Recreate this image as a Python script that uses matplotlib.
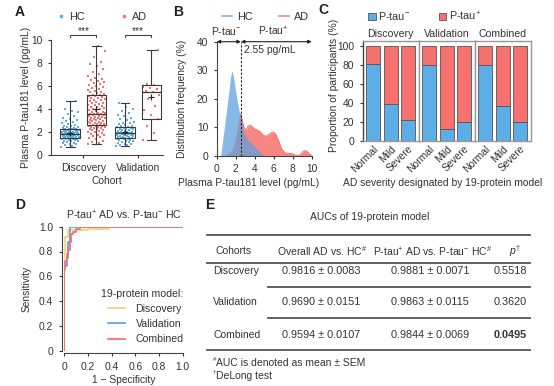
import numpy as np
import matplotlib
matplotlib.use("Agg")
import matplotlib.pyplot as plt
from matplotlib.lines import Line2D
from matplotlib.patches import Patch

FS = 7.4
plt.rcParams['font.family'] = ['Liberation Sans', 'DejaVu Sans']
plt.rcParams['font.size'] = FS
plt.rcParams['mathtext.fontset'] = 'custom'
plt.rcParams['mathtext.rm'] = 'Liberation Sans'
plt.rcParams['mathtext.it'] = 'Liberation Sans:italic'
plt.rcParams['mathtext.bf'] = 'Liberation Sans:bold'
TXT = '#333333'
plt.rcParams['text.color'] = TXT
plt.rcParams['axes.labelcolor'] = TXT
plt.rcParams['xtick.color'] = TXT
plt.rcParams['ytick.color'] = TXT
plt.rcParams['axes.edgecolor'] = '#444444'
plt.rcParams['axes.linewidth'] = 0.8
plt.rcParams['xtick.major.size'] = 2.5
plt.rcParams['ytick.major.size'] = 2.5
plt.rcParams['xtick.major.width'] = 0.8
plt.rcParams['ytick.major.width'] = 0.8
plt.rcParams['xtick.labelsize'] = FS
plt.rcParams['ytick.labelsize'] = FS

BLUE = '#5DADE6'
RED = '#F7726E'

# ---------------- Panel A data ----------------
cohorts = ['Discovery', 'Validation']
hc_discovery = [0.70, 0.78, 0.85, 0.92, 0.98, 1.02, 1.08, 1.12, 1.18, 1.22, 1.25, 1.28, 1.32, 1.35, 1.38, 1.40,
                1.42, 1.45, 1.47, 1.49, 1.51, 1.53, 1.55, 1.57, 1.60, 1.62, 1.64, 1.66, 1.68, 1.70, 1.72, 1.74,
                1.76, 1.78, 1.80, 1.82, 1.83, 1.84, 1.85, 1.86, 1.87, 1.89, 1.91, 1.93, 1.95, 1.97, 1.99, 2.01,
                2.03, 2.05, 2.07, 2.09, 2.11, 2.14, 2.17, 2.20, 2.22, 2.25, 2.27, 2.29, 2.32, 2.36, 2.40, 2.45,
                2.50, 2.55, 2.62, 2.70, 2.78, 2.85, 2.92, 3.00, 3.10, 3.25, 3.40, 3.55, 3.70, 3.85, 4.00, 4.70]
ad_discovery = [1.00, 1.05, 1.15, 1.25, 1.35, 1.45, 1.55, 1.62, 1.70, 1.78, 1.85, 1.92, 1.98, 2.04, 2.10, 2.15,
                2.20, 2.24, 2.28, 2.32, 2.36, 2.40, 2.44, 2.47, 2.50, 2.53, 2.56, 2.58,
                2.62, 2.66, 2.70, 2.74, 2.78, 2.82, 2.86, 2.90, 2.94, 2.98, 3.02, 3.06, 3.10, 3.14, 3.18, 3.22,
                3.26, 3.30, 3.34, 3.38, 3.42, 3.46, 3.50, 3.53, 3.56, 3.59, 3.60, 3.62,
                3.66, 3.72, 3.78, 3.84, 3.90, 3.96, 4.02, 4.08, 4.14, 4.20, 4.26, 4.32, 4.38, 4.44, 4.50, 4.56,
                4.62, 4.68, 4.74, 4.80, 4.86, 4.92, 4.98, 5.04, 5.10, 5.16, 5.20, 5.22,
                5.28, 5.36, 5.44, 5.52, 5.60, 5.68, 5.76, 5.84, 5.92, 6.00, 6.08, 6.16, 6.25, 6.35, 6.45, 6.55,
                6.62, 6.70, 6.85, 7.00, 7.20, 7.45, 7.70, 7.90, 8.10, 8.50, 9.00, 9.50]
hc_validation = [0.80, 0.85, 0.90, 0.95, 1.00, 1.05, 1.10, 1.15, 1.20, 1.24, 1.28, 1.32, 1.36, 1.40, 1.43, 1.45,
                 1.47, 1.50, 1.53, 1.56, 1.59, 1.62, 1.65, 1.68, 1.71, 1.74, 1.77, 1.80, 1.83, 1.86, 1.88, 1.90,
                 1.90, 1.92, 1.95, 1.98, 2.01, 2.04, 2.07, 2.10, 2.14, 2.18, 2.22, 2.26, 2.30, 2.34, 2.38, 2.42,
                 2.45, 2.50, 2.56, 2.62, 2.68, 2.75, 2.82, 2.90, 3.00, 3.10, 3.20, 3.35, 3.50, 3.65, 3.80, 4.00,
                 4.20, 4.50]
ad_validation = [1.30, 1.90, 2.50, 3.10, 3.50, 3.90, 4.30, 4.90, 5.20, 5.45, 5.60, 5.75, 5.85, 5.95, 6.05, 6.15, 9.10]

# box statistics (HC-Disc, AD-Disc, HC-Val, AD-Val)
box_low = [0.70, 1.00, 0.80, 1.30]
box_q1 = [1.50, 2.60, 1.45, 3.10]
box_med = [1.85, 3.60, 1.90, 5.45]
box_q3 = [2.30, 5.20, 2.45, 6.10]
box_high = [4.70, 9.50, 4.50, 9.10]
box_mean = [1.90, 4.00, 2.00, 5.00]
sig_labels = ['***', '***']

# ---------------- Panel B data ----------------
hc_dens_x = [0.42, 0.7, 1.0, 1.3, 1.45, 1.6, 1.75, 1.95, 2.2, 2.45, 2.65, 2.8, 3.1, 3.5, 3.9, 4.2, 4.5, 4.84, 5.0]
hc_dens_y = [0, 7.3, 15, 23, 27.5, 29.8, 28.0, 23.5, 18.5, 14.3, 10.5, 8.4, 6.3, 4.9, 3.6, 2.6, 1.5, 0.2, 0]
ad_dens_x = [1.0, 1.5, 1.9, 2.2, 2.4, 2.55, 2.7, 2.9, 3.1, 3.3, 3.5, 3.7, 4.0, 4.3, 4.6, 4.9, 5.2, 5.5, 5.8,
             6.0, 6.2, 6.45, 6.7, 6.9, 7.2, 7.5, 7.9, 8.2, 8.5, 8.8, 9.0, 9.2, 9.5, 9.7, 10.0]
ad_dens_y = [0, 0.8, 3.5, 8, 12.5, 14.8, 12, 9.5, 9.2, 10.3, 10.8, 10.2, 9.4, 9.0, 8.3, 7.2, 6.8, 7.5, 8.2,
             8.3, 7.6, 5.8, 3.5, 2.0, 1.0, 0.8, 0.8, 0.3, 0.0, 0.3, 1.2, 1.8, 1.6, 0.8, 0]
cutoff = 2.55

# ---------------- Panel C data ----------------
severity = ['Normal', 'Mild', 'Severe']
c_groups = ['Discovery', 'Validation', 'Combined']
ptau_neg = [[80.4, 38.2, 21.4], [79.6, 11.9, 19.6], [79.6, 36.1, 19.6]]

# ---------------- Panel D data ----------------
roc_disc_fpr = [0, 0, 0.01, 0.01, 0.03, 0.03, 0.20, 0.20, 0.38, 0.38, 1.0]
roc_disc_tpr = [0, 0.78, 0.78, 0.92, 0.92, 0.97, 0.97, 0.98, 0.98, 1.0, 1.0]
roc_val_fpr = [0, 0, 0.02, 0.02, 0.035, 0.035, 0.048, 0.048, 1.0]
roc_val_tpr = [0, 0.68, 0.68, 0.75, 0.75, 0.88, 0.88, 1.0, 1.0]
roc_comb_fpr = [0, 0, 0.01, 0.01, 0.02, 0.02, 0.03, 0.03, 0.045, 0.045, 0.055, 0.055, 0.07, 0.07, 0.10, 0.10,
                0.13, 0.13, 1.0]
roc_comb_tpr = [0, 0.65, 0.65, 0.72, 0.72, 0.78, 0.78, 0.81, 0.81, 0.88, 0.88, 0.94, 0.94, 0.96, 0.96, 0.98,
                0.98, 1.0, 1.0]

# ---------------- Panel E data ----------------
tab_cohorts = ['Discovery', 'Validation', 'Combined']
auc_overall = ['0.9816 ± 0.0083', '0.9690 ± 0.0151', '0.9594 ± 0.0107']
auc_ptau = ['0.9881 ± 0.0071', '0.9863 ± 0.0115', '0.9844 ± 0.0069']
p_values = ['0.5518', '0.3620', '0.0495']

W, H = 554, 386
fig = plt.figure(figsize=(W / 100, H / 100), dpi=100)


def ax_px(l, t, r, b):
    return fig.add_axes([l / W, 1 - b / H, (r - l) / W, (b - t) / H])


# ================= Panel A =================
axA = ax_px(50.7, 40, 163, 155)
pos_groups = [1, 2]
offs = 0.24
positions = [pos_groups[0] - offs, pos_groups[0] + offs, pos_groups[1] - offs, pos_groups[1] + offs]
series = [hc_discovery, ad_discovery, hc_validation, ad_validation]
cols = [BLUE, RED, BLUE, RED]
for p, vals, c in zip(positions, series, cols):
    n = len(vals)
    jit = (((np.arange(n) * 0.6180339) % 1.0) - 0.5) * 0.32
    axA.scatter(p + jit, vals, s=2.6, color=c, marker='s', linewidths=0, zorder=2)
stats = []
for i in range(4):
    stats.append(dict(whislo=box_low[i], q1=box_q1[i], med=box_med[i], q3=box_q3[i],
                      whishi=box_high[i], mean=box_mean[i], fliers=[]))
axA.bxp(stats, positions=positions, widths=0.36, showmeans=True, patch_artist=False,
        boxprops=dict(color='#3a3a3a', lw=0.8), medianprops=dict(color='#3a3a3a', lw=0.9),
        whiskerprops=dict(color='#3a3a3a', lw=0.8), capprops=dict(color='#3a3a3a', lw=0.8),
        meanprops=dict(marker='+', markeredgecolor='#222222', markersize=4, markeredgewidth=0.8),
        capwidths=0.16, zorder=3)
axA.set_xlim(0.407, 2.45)
axA.set_ylim(0, 10)
axA.set_yticks([0, 2, 4, 6, 8, 10])
axA.set_xticks(pos_groups)
axA.set_xticklabels(cohorts)
axA.set_xlabel('Cohort', labelpad=2)
axA.set_ylabel('Plasma P-tau181 level (pg/mL)')
axA.yaxis.set_label_coords(-0.178, 0.5)
axA.spines['top'].set_visible(False)
axA.spines['right'].set_visible(False)
for g, lab in zip(pos_groups, sig_labels):
    y0 = 10.25
    axA.plot([g - offs, g - offs, g + offs, g + offs], [y0, y0 + 0.2, y0 + 0.2, y0], color='#444444', lw=0.8,
             clip_on=False)
    axA.text(g, y0 + 0.12, lab, ha='center', va='bottom', fontsize=FS, clip_on=False)
legA = [Line2D([], [], marker='s', ls='none', color=BLUE, markersize=2.0, label='HC'),
        Line2D([], [], marker='s', ls='none', color=RED, markersize=2.0, label='AD')]
fig.legend(handles=legA, loc='center left', bbox_to_anchor=(58 / W, 1 - 17 / H), ncol=2, frameon=False,
           handlelength=0.5, handletextpad=0.5, columnspacing=3.4, fontsize=FS + 0.4, borderaxespad=0,
           borderpad=0)

# ================= Panel B =================
axB = ax_px(216.7, 41.7, 311.7, 155.7)
axB.fill_between(ad_dens_x, ad_dens_y, color=RED, alpha=0.85, lw=0, zorder=1)
axB.plot(ad_dens_x, ad_dens_y, color='#F06A66', lw=0.6, zorder=1)
axB.fill_between(hc_dens_x, hc_dens_y, color='#5A9FDD', alpha=0.72, lw=0, zorder=2)
axB.axvline(cutoff, ymin=0, ymax=1, color='#222222', lw=0.8, ls=(0, (2, 1.5)), zorder=3)
axB.set_xlim(0, 10)
axB.set_ylim(0, 40)
axB.set_xticks([0, 2, 4, 6, 8, 10])
axB.set_yticks([0, 10, 20, 30, 40])
axB.spines['top'].set_visible(False)
axB.spines['right'].set_visible(False)
axB.set_xlabel('Plasma P-tau181 level (pg/mL)')
axB.xaxis.set_label_coords(0.34, -0.2)
axB.set_ylabel('Distribution frequency (%)')
axB.yaxis.set_label_coords(-0.31, 0.5)
for a, b in [(0, cutoff), (cutoff, 10)]:
    axB.annotate('', xy=(b, 40), xytext=(a, 40), xycoords='data',
                 arrowprops=dict(arrowstyle='<|-|>', color='#222222', lw=0.8, mutation_scale=5,
                                 shrinkA=0, shrinkB=0), annotation_clip=False)
axB.text(2.9, 37.0, '2.55 pg/mL', ha='left', va='center', fontsize=FS)
axB.text(1.0, 43.8, 'P-tau$^{-}$', ha='center', va='center', fontsize=FS)
axB.text(5.9, 43.8, 'P-tau$^{+}$', ha='center', va='center', fontsize=FS)
legB = [Line2D([], [], color='#7FB8EC', lw=1.2, label='HC'), Line2D([], [], color='#F58A86', lw=1.2, label='AD')]
fig.legend(handles=legB, loc='center left', bbox_to_anchor=(222 / W, 1 - 17 / H), ncol=2, frameon=False,
           handlelength=0.95, handletextpad=0.45, columnspacing=2.4, fontsize=FS + 0.4, borderaxespad=0,
           borderpad=0)

# ================= Panel C =================
c_left = 362.7
c_w = 56
xs = np.arange(len(severity))
axesC = []
for gi, gname in enumerate(c_groups):
    ax = ax_px(c_left + gi * c_w, 40.7, c_left + (gi + 1) * c_w, 140.7)
    neg = np.array(ptau_neg[gi])
    pos = 100 - neg
    ax.bar(xs, neg, width=0.78, color=BLUE, edgecolor='#555555', lw=0.6, zorder=2)
    ax.bar(xs, pos, bottom=neg, width=0.78, color=RED, edgecolor='#555555', lw=0.6, zorder=2)
    ax.set_xlim(-0.6, 2.6)
    ax.set_ylim(0, 105.3)
    for s in ax.spines.values():
        s.set_color('#999999')
        s.set_linewidth(1.0)
    ax.set_xticks(xs)
    ax.set_xticklabels(severity, rotation=45, ha='right', rotation_mode='anchor')
    ax.tick_params(axis='x', length=0, pad=2)
    ax.set_title(gname, fontsize=FS + 0.2, pad=3)
    if gi == 0:
        ax.set_yticks([0, 20, 40, 60, 80, 100])
        ax.set_ylabel('Proportion of participants (%)')
        ax.yaxis.set_label_coords(-0.43, 0.55)
    else:
        ax.set_yticks([])
    axesC.append(ax)
axesC[0].spines['left'].set_color('#444444')
legC = [Patch(facecolor=BLUE, edgecolor='#555555', lw=0.6, label='P-tau$^{-}$'),
        Patch(facecolor=RED, edgecolor='#555555', lw=0.6, label='P-tau$^{+}$')]
fig.legend(handles=legC, loc='center left', bbox_to_anchor=(368 / W, 1 - 16 / H), ncol=2, frameon=False,
           handlelength=0.7, handleheight=0.7, handletextpad=0.25, columnspacing=2.6, fontsize=FS + 0.4,
           borderaxespad=0, borderpad=0)
fig.text(443 / W, 1 - 183 / H, 'AD severity designated by 19-protein model', ha='center', va='center',
         fontsize=FS)

# ================= Panel D =================
axD = ax_px(64.3, 226.7, 182.7, 350.7)
axD.plot(roc_disc_fpr, roc_disc_tpr, color='#FDD07F', lw=1.3, label='Discovery', zorder=2)
axD.plot(roc_val_fpr, roc_val_tpr, color='#5AA8E6', lw=1.3, label='Validation', zorder=3)
axD.plot(roc_comb_fpr, roc_comb_tpr, color='#F7736F', lw=1.3, label='Combined', zorder=4)
axD.set_xlim(0, 1)
axD.set_ylim(0, 1)
axD.set_xticks([0, 0.2, 0.4, 0.6, 0.8, 1.0])
axD.set_xticklabels(['0', '0.2', '0.4', '0.6', '0.8', '1.0'])
axD.set_yticks([0, 0.2, 0.4, 0.6, 0.8, 1.0])
axD.set_yticklabels(['0', '0.2', '0.4', '0.6', '0.8', '1.0'])
axD.spines['top'].set_visible(False)
axD.spines['right'].set_visible(False)
axD.spines['bottom'].set_position(('outward', 2))
axD.spines['left'].set_position(('outward', 2))
axD.set_xlabel('1 − Specificity', labelpad=2)
axD.set_ylabel('Sensitivity')
axD.yaxis.set_label_coords(-0.28, 0.5)
axD.set_title('P-tau$^{+}$ AD vs. P-tau$^{-}$ HC', fontsize=FS + 0.2, pad=5)
legD = axD.legend(loc='lower right', bbox_to_anchor=(1.06, 0.0), frameon=False, title='19-protein model:',
                  title_fontsize=FS + 0.2, fontsize=FS + 0.2, handlelength=1.6, handletextpad=1.0,
                  labelspacing=0.5, borderaxespad=0.2)
legD._legend_box.align = 'right'

# ================= Panel E (table) =================
axE = fig.add_axes([0, 0, 1, 1], zorder=-1)
axE.set_xlim(0, W)
axE.set_ylim(H, 0)
axE.axis('off')
LC = '#555555'
fs = 7.5
axE.text(370, 216.7, 'AUCs of 19-protein model', ha='center', va='center', fontsize=fs)
axE.plot([206.7, 530], [235, 235], color=LC, lw=1.3)
axE.text(215, 250.7, 'Cohorts', ha='left', va='center', fontsize=fs)
axE.text(321.7, 250.7, 'Overall AD vs. HC$^{\\#}$', ha='center', va='center', fontsize=fs)
axE.text(432.5, 250.7, 'P-tau$^{+}$ AD vs. P-tau$^{-}$ HC$^{\\#}$', ha='center', va='center', fontsize=fs)
axE.text(515, 250.7, '$\\it{p}$$^{\\dagger}$', ha='center', va='center', fontsize=fs)
axE.plot([206.7, 530], [262.7, 262.7], color=LC, lw=1.3)
row_y = [271, 302.3, 335]
for i in range(3):
    y = row_y[i]
    axE.text(213, y, tab_cohorts[i], ha='left', va='center', fontsize=fs)
    axE.text(321.5, y, auc_overall[i], ha='center', va='center', fontsize=fs + 0.3)
    axE.text(430, y, auc_ptau[i], ha='center', va='center', fontsize=fs + 0.3)
    axE.text(527, y, p_values[i], ha='right', va='center', fontsize=fs + 0.3,
             fontweight='bold' if i == 2 else 'normal')
axE.plot([268.3, 530], [287.3, 287.3], color=LC, lw=1.3)
axE.plot([268.3, 530], [318.3, 318.3], color=LC, lw=1.3)
axE.plot([206.7, 530], [350, 350], color=LC, lw=1.3)
axE.text(213, 359.5, '#', ha='left', va='center', fontsize=4.5)
axE.text(216.5, 362.7, 'AUC is denoted as mean ± SEM', ha='left', va='center', fontsize=fs)
axE.text(213, 372.5, '†', ha='left', va='center', fontsize=4.5)
axE.text(216, 375.7, 'DeLong test', ha='left', va='center', fontsize=fs)

# panel letters
for lab, x, y in [('A', 15, 12), ('B', 173, 12), ('C', 318, 10), ('D', 15, 205), ('E', 205, 205)]:
    fig.text(x / W, 1 - y / H, lab, ha='left', va='center', fontsize=10, fontweight='bold', color='#222222')

fig.savefig('out.png', dpi=100)
